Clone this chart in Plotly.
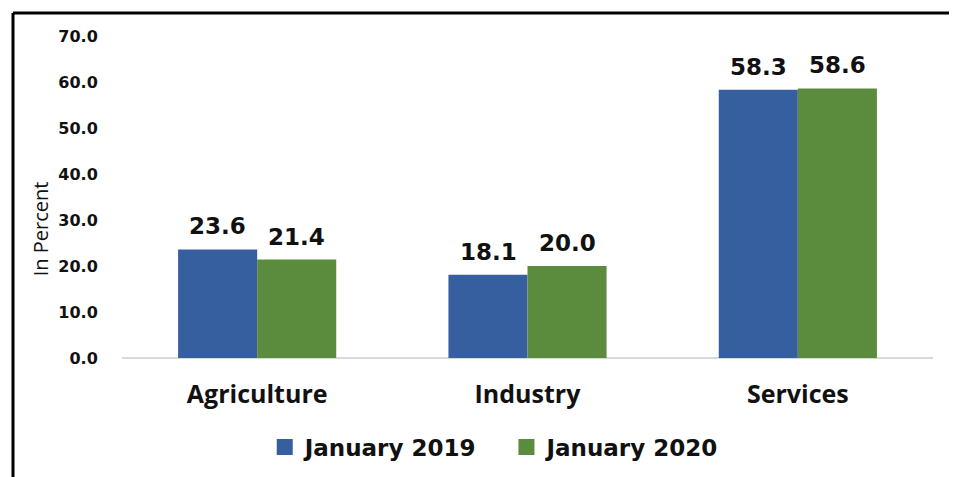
import plotly.graph_objects as go

categories = ["Agriculture", "Industry", "Services"]
jan_2019 = [23.6, 18.1, 58.3]
jan_2020 = [21.4, 20.0, 58.6]
series_names = ["January 2019", "January 2020"]
y_ticks = [0, 10, 20, 30, 40, 50, 60, 70]

colors = ["#365F9F", "#5B8B3D"]
label_font = dict(family="DejaVu Sans", size=23, color="#111", weight="bold")

fig = go.Figure()
for i, (name, vals, col) in enumerate(zip(series_names, [jan_2019, jan_2020], colors)):
    fig.add_trace(go.Bar(
        x=categories, y=vals, name=name, showlegend=False,
        marker=dict(color=col, line=dict(width=0)),
    ))
    # legend entry with a bigger square swatch (nbsp pads the gap between items)
    fig.add_trace(go.Scatter(
        x=[None], y=[None], name=name + ("\u00a0" * 3 if i == 0 else ""),
        mode="markers", marker=dict(symbol="square", size=16, color=col),
    ))
    # value labels above each bar
    shift = -39.5 if i == 0 else 39.5
    for c, v in zip(categories, vals):
        fig.add_annotation(x=c, y=v, text=f"{v:.1f}", showarrow=False,
                           xshift=shift, yshift=8, yanchor="bottom",
                           font=label_font)

# y axis title, placed a bit below the middle like in the original
fig.add_annotation(xref="paper", yref="paper", x=-0.101, y=0.40, text="In Percent",
                   textangle=-90, showarrow=False, xanchor="center", yanchor="middle",
                   font=dict(family="Open Sans", size=20, color="#111"))

fig.update_layout(
    width=957, height=477,
    margin=dict(l=114, r=32, t=28, b=127),
    paper_bgcolor="white", plot_bgcolor="white",
    barmode="group", bargap=0.415, bargroupgap=0,
    showlegend=True,
    legend=dict(orientation="h", x=0.176, xanchor="left", y=-0.21, yanchor="top",
                font=dict(family="DejaVu Sans", size=23, color="#111", weight="bold"),
                itemwidth=30, traceorder="normal"),
    xaxis=dict(showgrid=False, showline=False, ticks="outside", ticklen=14,
               tickcolor="rgba(0,0,0,0)",
               tickfont=dict(family="Open Sans", size=25, color="#111", weight="bold")),
    yaxis=dict(range=[0, 70], tickvals=y_ticks, ticktext=[f"{v:.1f}" for v in y_ticks],
               showgrid=False, zeroline=True, zerolinecolor="#d9d9d9", zerolinewidth=2,
               ticks="outside", ticklen=20, tickcolor="rgba(0,0,0,0)",
               tickfont=dict(family="DejaVu Sans", size=16, color="#111", weight="bold")),
    font=dict(family="DejaVu Sans"),
)

# outer frame of the original picture
fig.add_shape(type="line", xref="paper", yref="paper", x0=-0.1344, x1=1.1,
              y0=1.0714, y1=1.0714, line=dict(color="black", width=3))
fig.add_shape(type="line", xref="paper", yref="paper", x0=-0.1344, x1=-0.1344,
              y0=1.0714, y1=-0.5, line=dict(color="black", width=3))

fig.write_html("out.html")
